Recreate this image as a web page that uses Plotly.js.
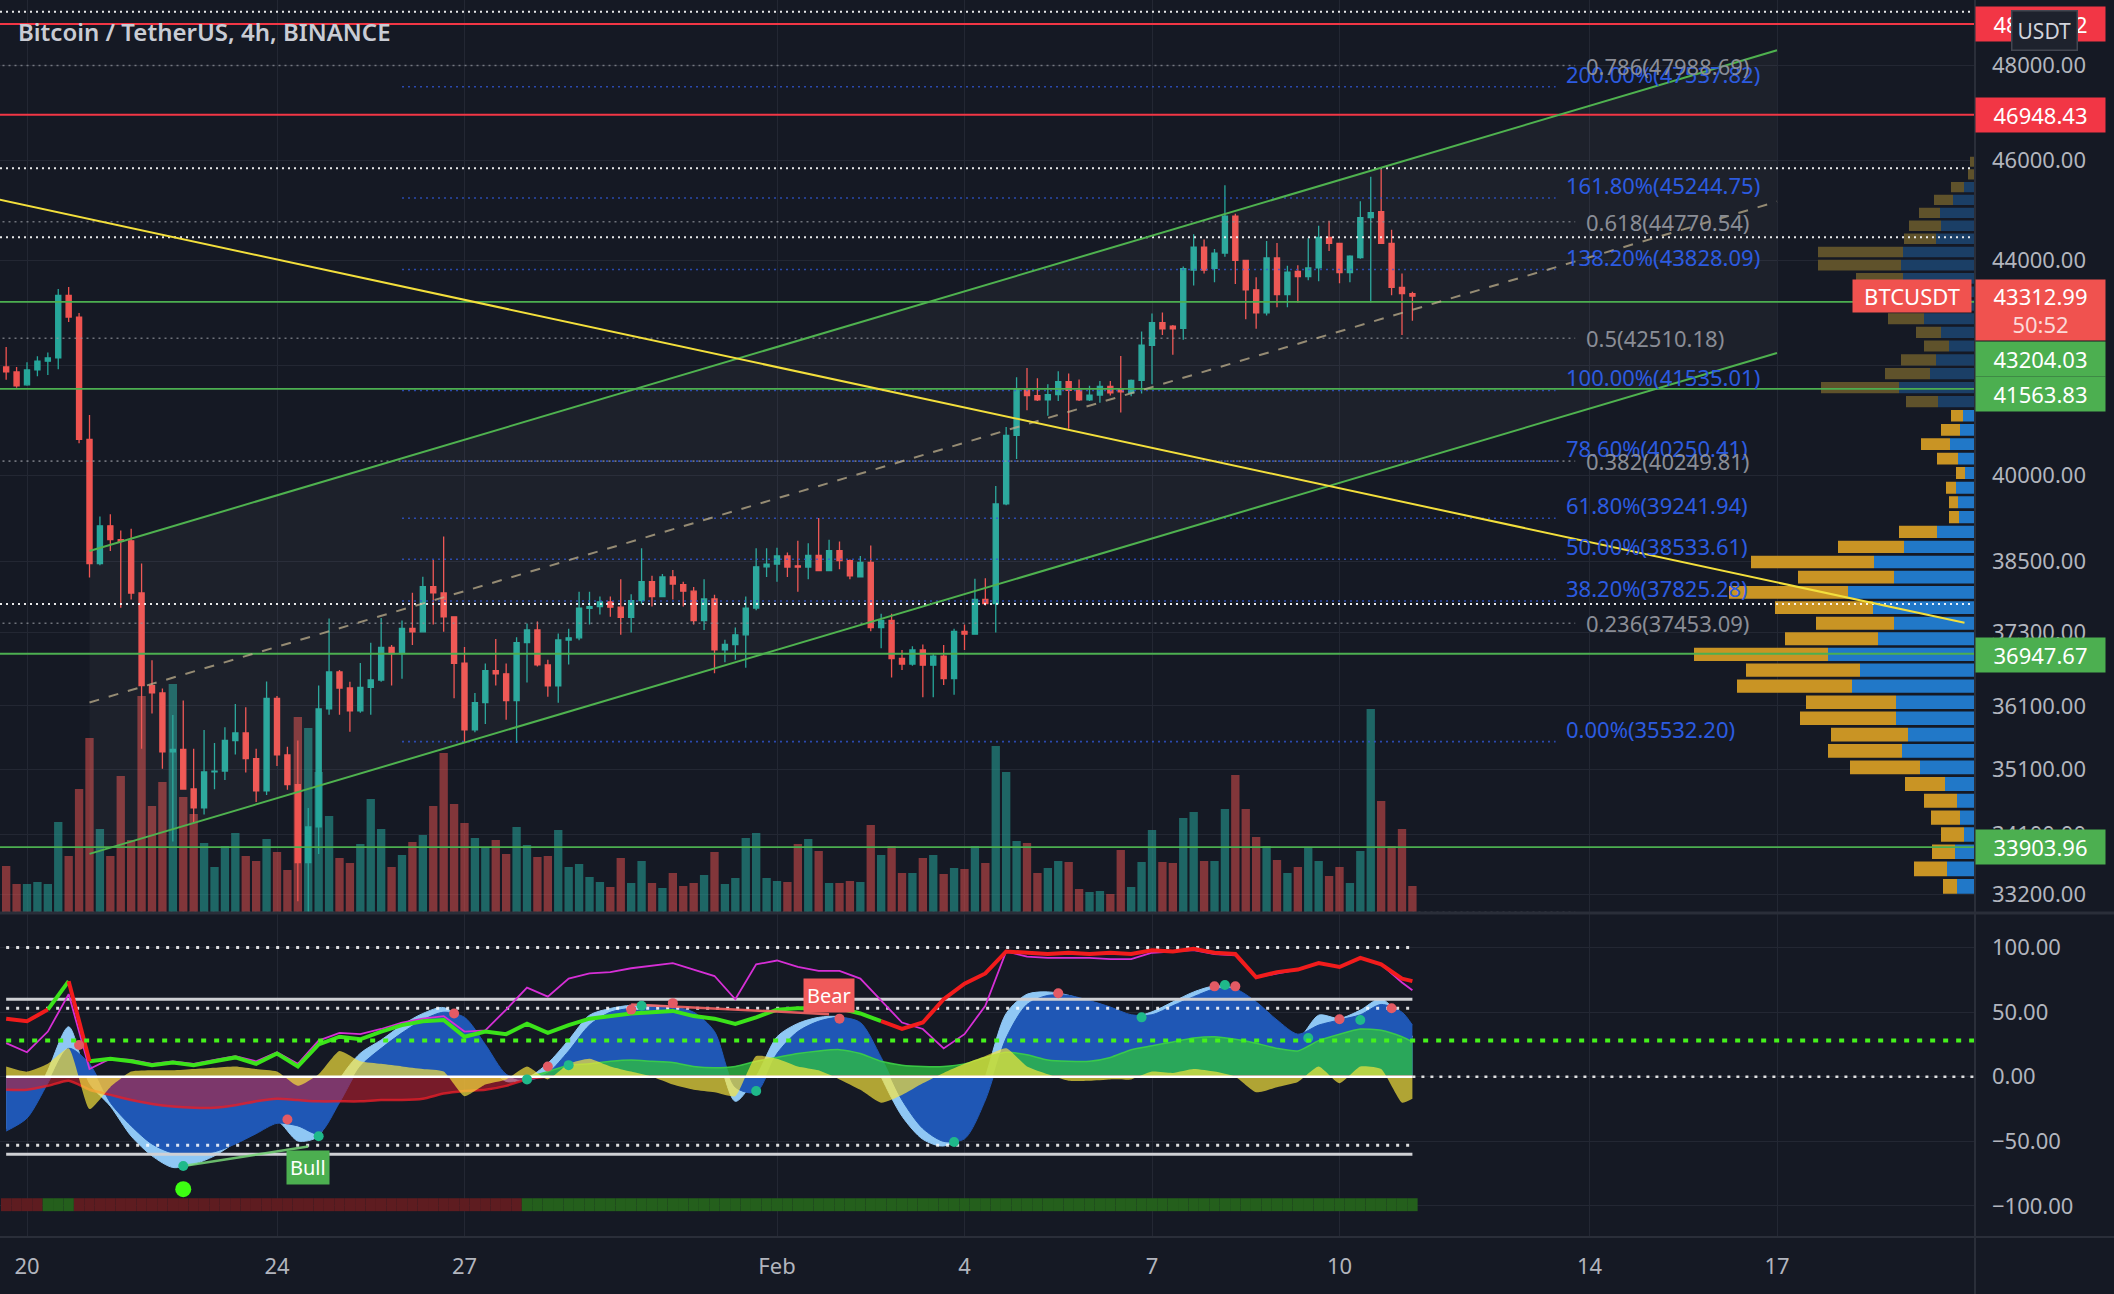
<!DOCTYPE html>
<html><head><meta charset="utf-8">
<script src="https://cdn.plot.ly/plotly-3.0.1.min.js"></script>
<style>html,body{margin:0;padding:0;background:#151924;}#chart{width:2114px;height:1294px;}</style>
</head><body><div id="chart"></div>
<script>
// ================= DATA =================
const firstBar = '2022-01-19 16:00';   // first visible 4h bar (UTC)
const opens = [41971,41878,41639,41915,42080,42140,43330,42913,40640,38457,
39110,38870,38850,37959,36427,36310,35370,35410,34792,34500,
35057,35070,35550,35670,35265,34762,36222,35323,34859,33672,
34210,36053,36650,36390,36021,36400,36519,37054,36950,37368,
37310,38066,37960,37560,36792,35717,36155,36671,36620,36185,
37130,37340,36765,36423,37174,37210,37703,37730,37810,37720,
37550,37830,38151,37900,38230,38100,37990,37496,37860,37010,
37100,37260,37705,38404,38450,38590,38420,38400,38600,38340,
38680,38510,38231,38481,37378,37500,36870,36780,37010,36760,
36910,36540,37315,37270,37853,37780,39493,40715,41559,41440,
41360,41460,41700,41535,41360,41450,41610,41550,41490,41720,
42378,42806,42740,42700,43820,44268,43850,44150,44882,44009,
43436,42993,44056,43342,43790,43690,43860,44461,44340,43769,
44060,44853,44970,44340,43484,43360];
const highs = [42343,41971,42061,42170,42240,43451,43490,42990,41085,39270,
39310,39030,39060,38460,36840,36380,35957,36190,35420,35717,
35510,35760,36130,36080,35420,36493,36260,35450,35550,34500,
36430,37533,36680,36490,36796,37129,37540,37090,37500,37965,
38235,38521,38923,37570,37060,36310,36790,37190,36790,37220,
37450,37480,36850,37280,37360,37981,37980,37900,37900,38190,
37940,38722,38250,38280,38350,38150,38060,38190,37930,37180,
37380,37900,38720,38720,38730,38650,38850,38810,39245,38870,
38840,38530,38590,38770,37610,37610,37010,37070,37100,36960,
37090,37360,37430,38200,38210,39810,40867,41778,41950,41760,
41650,41890,41850,41740,41620,41710,41710,42175,41740,42638,
42980,43000,42760,43890,44521,44420,44230,45503,44930,44009,
43680,44390,44350,43900,43910,44440,44690,44790,44340,44110,
45177,45673,45820,44610,43750,43400];
const lows = [41733,41583,41620,41800,41820,41930,42820,40571,38220,38430,
38675,37710,37850,35420,35980,35108,33988,34780,34286,34400,
34790,34930,35330,35050,34590,34700,35150,34780,33100,32932,
33800,35960,35960,35690,35990,35960,36490,36430,36540,37090,
37300,37430,37310,36224,35518,35680,35810,36430,35880,35510,
36480,36740,36250,36150,36770,37170,37430,37600,37560,37260,
37300,37780,37730,37900,37850,37730,37430,37340,36628,36810,
36850,36720,37670,38230,38150,38230,37980,38190,38340,38340,
38360,38190,38220,37320,37040,36560,36680,36750,36240,36240,
36440,36280,37010,37270,37750,37300,39470,40290,41170,41340,
41070,41340,40834,41340,41340,41310,41440,41130,41430,41480,
41650,42570,42200,42480,43520,43750,43580,44080,43550,42870,
42690,42940,43100,43100,43190,43620,43600,44190,43560,43580,
44040,43190,44330,43330,42570,42840];
const closes = [41878,41620,41915,42080,42140,43327,42913,40640,38457,39110,
38870,38840,37959,36427,36310,35370,35410,34792,34500,35057,
35070,35550,35670,35265,34762,36222,35323,34859,33672,34210,
36053,36650,36390,36021,36400,36519,37054,36950,37368,37310,
38066,37960,37560,36792,35717,36155,36671,36620,36185,37130,
37340,36765,36423,37174,37210,37703,37730,37810,37720,37550,
37830,38151,37900,38230,38110,37990,37496,37860,37010,37100,
37260,37705,38404,38450,38590,38400,38400,38600,38340,38680,
38510,38250,38481,37378,37500,36870,36780,37010,36760,36910,
36540,37315,37270,37853,37780,39493,40715,41559,41440,41360,
41460,41700,41535,41360,41450,41610,41490,41510,41720,42378,
42806,42690,42690,43846,44268,43820,44150,44882,44009,43436,
42993,44056,43342,43780,43690,43860,44461,44340,43769,44090,
44853,44951,44340,43484,43360,43312.99];
const volumes = [4600,2800,2800,3000,2800,9000,5600,12300,17400,8300,
5600,13600,7200,21600,10600,13000,22800,11500,9800,6900,
4500,6600,7900,5600,5100,7300,6000,4200,19500,18400,
14000,9600,5400,4900,6800,11300,8300,4500,5700,7000,
7700,10600,15900,10800,8900,7400,6400,7200,5800,8500,
6700,5500,5600,8200,4500,4800,3500,3000,2500,5400,
2900,5100,2900,2400,3900,2600,2900,3700,6000,2800,
3400,7400,7900,3400,3100,3000,6800,7300,6100,2900,
2900,3100,3000,8700,5700,6600,3900,3900,5400,5700,
3800,4400,4300,6600,4900,16600,14000,7100,6900,3900,
4400,5100,5000,2300,2000,2100,1800,6200,2500,5000,
8200,5000,4900,9400,10000,5100,5100,10300,13700,10300,
7500,6600,5200,3900,4500,6400,5100,3600,4500,2900,
6100,20300,11100,6600,8300,2600];

// price axis ticks (42000 has a grid line but its label is hidden by the price labels)
const priceTicks = [48000,46000,44000,42000,40000,38500,37300,36100,35100,34100,33200];
const priceTickText = ['48000.00','46000.00','44000.00','','40000.00','38500.00','37300.00','36100.00','35100.00','34100.00','33200.00'];
const dateTicks = ['2022-01-20','2022-01-24','2022-01-27','2022-02-01','2022-02-04','2022-02-07','2022-02-10','2022-02-14','2022-02-17'];
const dateTickText = ['20','24','27','Feb','4','7','10','14','17'];
const oscTicks = [-100,-50,0,50,100];
const oscTickText = ['\u2212100.00','\u221250.00','0.00','50.00','100.00'];

// horizontal levels
const redLevels = [48883.22, 46948.43];
const greenLevels = [43204.03, 41563.83, 36947.67, 33903.96];
const whiteDotLevels = [49150, 45846, 44461, 37774];
const lastPrice = 43312.99;
const countdown = '50:52';

// fib retracement (grey) and fib extension (blue)
const fibRetLevels = ['0','0.236','0.382','0.5','0.618','0.786'];
const fibRetPrices = [32932.35,37453.09,40249.81,42510.18,44770.54,47988.69];
const fibRetSpan = ['2022-01-15 00:00','2022-02-13 18:30'];
const fibExtLevels = ['0.00%','38.20%','50.00%','61.80%','78.60%','100.00%','138.20%','161.80%','200.00%'];
const fibExtPrices = [35532.20,37825.28,38533.61,39241.94,40250.41,41535.01,43828.09,45244.75,47537.82];
const fibExtSpan = ['2022-01-26 00:00','2022-02-13 11:00'];

// parallel channel and trend line
const channelTimes = ['2022-01-21 00:00','2022-02-17 00:00'];
const channelUpper = [38675, 48317];
const channelLower = [33803, 42233];
const trendTimes = ['2022-01-19 12:00','2022-02-20 00:00'];
const trendPrices = [45226, 37460];

// visible volume profile (rows from the bottom price upward)
const vpBottom = 33190, vpRowSize = 258.4, vpValueAreaHigh = 41200;
const vpUpVol = [18,28,20,11,15,18,30,55,73,67,79,79,123,115,147,97,81,102,127,81,
101,71,38,16,17,19,10,17,25,15,12,37,76,45,39,26,34,51,59,69,72,74,72,39,34,35,22,11,1,1];
const vpDownVol = [14,33,23,23,29,33,40,70,74,77,96,90,115,114,134,93,78,98,119,96,
123,66,38,10,9,10,9,21,29,19,12,32,78,45,35,25,25,36,45,50,47,83,85,32,32,21,19,13,6,4];

// oscillator (sampled every second bar + last bar)
const wt1 = [-40,-28,5,38.7,-5,-22.8,-45.9,-61.2,-70.2,-67.7,-61.2,-51,-42,-34.3,-49.7,-45.9,-2.3,18.2,28.5,40,
49,53.6,41.3,13.1,-3.6,-1,10.5,28.5,47.7,52.9,55.4,55.4,54.1,46.4,23.4,-19,0.3,31,41.3,46,
46.4,38.7,0,-30.5,-48.4,-53.6,-43.3,0,49,63.9,65.7,63.1,58,52.9,46.4,50.3,58,65.7,70.3,68.2,
52.9,38.7,29.8,47.7,45.2,51.6,60.5,43.9,31];
const wt2 = [-42,-32,-5,22,10,-20,-38,-52,-59,-60,-58,-52,-44,-36,-38,-44,-20,8,22,34,
44,50,46,25,2,-3,3,20,40,50,53,54,54,50,35,-8,-12,18,35,43,
46,42,15,-18,-40,-50,-48,-18,30,56,63,63,59,54,48,48,55,62,68,68,
58,44,33,40,44,48,56,50,40];
const moneyFlow = [-10,-10,-7,-3,-10,-14,-18,-21,-23,-24,-24,-22,-19,-17,-18,-19,-19,-19,-18,-18,
-17,-13,-11,-10,-7,-2,4,9,10,12,13,12,11,8,7,8,12,15,18,20,
21,18,12,9,8,8,10,15,19,17,13,12,12,15,21,24,27,30,31,29,
26,22,20,28,33,37,36,31,27];
const yellowFlow = [8,4,10,22,-25,-8,4,5,5,6,7,8,6,4,-7,2,20,12,10,8,
6,4,-15,-6,-2,8,-2,10,14,8,4,0,-6,-10,-12,-15,16,14,8,5,
-2,-10,-20,-14,-5,3,10,16,22,8,2,-3,-3,-2,-2,4,3,6,4,0,
-12,-8,-4,8,-5,8,6,-20,-17];
const stochK = [45,43,52,74,12,14,12,9,11,9,12,15,10,18,8,25,31,29,35,40,
43,44,31,35,33,41,34,40,45,47,49,50,51,47,45,41,46,52,53,53,
53,49,43,37,42,60,72,80,97,96,95,96,95,96,95,98,97,99,96,95,
77,81,83,88,85,92,87,76,74];
const stochKState = 'RRRGRGGGGGGGGGGGGGGGGGGGGGGGGGGGGGGGGGGGGGGRRRRRRRRRRRRRRRRRRRRRRRRRR';
const stochD = [26,19,35,64,6,14,13,10,12,10,13,16,12,19,10,28,34,33,37,42,
45,47,35,36,52,69,62,76,80,81,84,86,88,83,78,60,87,90,85,82,
82,76,59,42,37,22,33,55,97,93,92,92,92,91,91,96,97,98,95,94,
77,80,83,88,85,92,87,73,67];
const dotTimes = ['2022-01-20 20:00','2022-01-22 12:00','2022-01-24 04:00','2022-01-24 16:00','2022-01-26 20:00',
'2022-01-28 00:00','2022-01-28 08:00','2022-01-28 16:00','2022-01-29 16:00','2022-01-29 20:00','2022-01-30 08:00',
'2022-01-31 16:00','2022-02-02 00:00','2022-02-03 20:00','2022-02-05 12:00','2022-02-06 20:00','2022-02-08 00:00',
'2022-02-08 04:00','2022-02-08 08:00','2022-02-09 12:00','2022-02-10 00:00','2022-02-10 08:00','2022-02-10 20:00'];
const dotValues = [24.6,-69,-33,-46,49,-2,8,9,52,55,57,-11,45,-50.5,64.7,46,70,71,70,30,44.6,44,53];
const dotTypes = ['bear','bull','bear','bull','bear','bull','bear','bull','bear','bull','bear','bull','bear','bull','bear','bull','bear','bull','bear','bull','bear','bull','bear'];
const bigDotTime = ['2022-01-22 12:00'], bigDotValue = [-87];
const bullDivTimes = ['2022-01-22 12:00','2022-01-24 12:00'], bullDivValues = [-69,-54];
const bearDivTimes = ['2022-01-29 16:00','2022-02-01 20:00'], bearDivValues = [56,48.5];
const bandStarts = ['2022-01-19 16:00','2022-01-20 08:00','2022-01-20 20:00','2022-01-28 00:00'];
const bandStates = ['bear','bull','bear','bull'];
const oscLevels = {top:100, ob:60, obDot:53, mid:28, zero:0, osDot:-53, os:-60};

// ================= HELPERS =================
const BG='#151924', GRID='#232733', TXT='#b2b5be';
const UP='#26a69a', DOWN='#ef5350';
const H4 = 4*3600*1000;
const xRange = ['2022-01-19 13:38','2022-02-20 04:02'];
const toMs = s => Date.parse(s.replace(' ','T')+':00Z');
const pad = n => String(n).padStart(2,'0');
const fmt = ms => {const d=new Date(ms);return d.getUTCFullYear()+'-'+pad(d.getUTCMonth()+1)+'-'+pad(d.getUTCDate())+' '+pad(d.getUTCHours())+':'+pad(d.getUTCMinutes());};
const t0 = toMs(firstBar);
const candleMs = opens.map((_,i)=>t0+i*H4);
const times = candleMs.map(fmt);
const nBars = times.length;
const oscIdx = []; for(let i=0;i<nBars-1;i+=2) oscIdx.push(i); oscIdx.push(nBars-1);
const oscTimes = oscIdx.map(i=>times[i]);
const L10 = Math.log10;

// plot geometry
const PLOT_H = 1237, PRICE_H = 912, OSC_H = 323;
const priceDomain = [(PLOT_H-PRICE_H)/PLOT_H, 1];
const oscDomain = [0, OSC_H/PLOT_H];

// ================= TRACES =================
const traces = [];
traces.push({type:'bar', x:times, y:volumes, xaxis:'x', yaxis:'y',
  marker:{color:closes.map((c,i)=>c>=opens[i]?'rgba(38,166,154,0.55)':'rgba(239,83,80,0.5)'), line:{width:0}},
  hoverinfo:'skip'});
traces.push({type:'scatter', mode:'none', xaxis:'x', yaxis:'y2',
  x:[channelTimes[0],channelTimes[1],channelTimes[1],channelTimes[0]],
  y:[channelUpper[0],channelUpper[1],channelLower[1],channelLower[0]],
  fill:'toself', fillcolor:'rgba(255,255,255,0.035)', hoverinfo:'skip'});
traces.push({type:'candlestick', x:times, open:opens, high:highs, low:lows, close:closes, xaxis:'x', yaxis:'y2',
  increasing:{line:{color:UP,width:1.3}, fillcolor:UP},
  decreasing:{line:{color:DOWN,width:1.3}, fillcolor:DOWN}, hoverinfo:'skip'});
function rects(list){const X=[],Y=[];list.forEach(r=>{X.push(r[0],r[1],r[1],r[0],r[0],null);Y.push(r[2],r[2],r[3],r[3],r[2],null);});return {X,Y};}
const gapF = Math.exp(1.3/2250);
const vpGroups = {upIn:[],downIn:[],upOut:[],downOut:[]};
vpUpVol.forEach((u,i)=>{
  const lo = vpBottom + i*vpRowSize, hi = lo + vpRowSize;
  const y0 = lo*gapF, y1 = hi/gapF;
  const inVA = hi <= vpValueAreaHigh + 1;
  const d = vpDownVol[i];
  (inVA?vpGroups.upIn:vpGroups.upOut).push([0,u,y0,y1]);
  (inVA?vpGroups.downIn:vpGroups.downOut).push([u,u+d,y0,y1]);
});
[['upIn','#2178c8'],['downIn','#c99424'],['upOut','#1b3f66'],['downOut','#5f522b']].forEach(([k,c])=>{
  const r = rects(vpGroups[k]);
  traces.push({type:'scatter', mode:'none', x:r.X, y:r.Y, xaxis:'x2', yaxis:'y2', fill:'toself', fillcolor:c, hoverinfo:'skip'});
});

// --- oscillator ---
const bandMs = bandStarts.map(toMs);
const bandCol = candleMs.map(ms=>{let st=bandStates[0];bandMs.forEach((b,k)=>{if(ms>=b) st=bandStates[k];});return st==='bull'?'#245f1c':'#5e1c20';});
const bandBottom=-104, bandTop=-94;
traces.push({type:'bar', x:times, y:times.map(()=>bandTop-bandBottom), base:bandBottom, width:H4,
  xaxis:'x', yaxis:'y3', marker:{color:bandCol, line:{width:0}}, hoverinfo:'skip'});
traces.push({type:'scatter', mode:'lines', x:oscTimes, y:wt1, xaxis:'x', yaxis:'y3', fill:'tozeroy',
  line:{color:'#8fc7f4', width:1, shape:'spline', smoothing:0.8}, fillcolor:'#8fc7f4', hoverinfo:'skip'});
traces.push({type:'scatter', mode:'lines', x:oscTimes, y:wt2, xaxis:'x', yaxis:'y3', fill:'tozeroy',
  line:{color:'#1f57b5', width:1, shape:'spline', smoothing:0.8}, fillcolor:'#1f57b5', hoverinfo:'skip'});
traces.push({type:'scatter', mode:'lines', x:oscTimes, y:moneyFlow.map(v=>Math.max(v,0)), xaxis:'x', yaxis:'y3', fill:'tozeroy',
  line:{color:'rgba(60,210,70,0.9)', width:1.5, shape:'spline', smoothing:0.6}, fillcolor:'rgba(46,190,64,0.78)', hoverinfo:'skip'});
traces.push({type:'scatter', mode:'lines', x:oscTimes, y:moneyFlow.map(v=>Math.min(v,0)), xaxis:'x', yaxis:'y3', fill:'tozeroy',
  line:{color:'rgba(230,30,40,0.8)', width:2.5, shape:'spline', smoothing:0.6}, fillcolor:'rgba(200,30,45,0.55)', hoverinfo:'skip'});
traces.push({type:'scatter', mode:'lines', x:oscTimes, y:yellowFlow, xaxis:'x', yaxis:'y3', fill:'tozeroy',
  line:{color:'rgba(250,230,60,0.0)', width:0, shape:'spline', smoothing:0.5}, fillcolor:'rgba(250,230,60,0.68)', hoverinfo:'skip'});
const span = [times[0], times[nBars-1]];
function lvl(v, color, width, dash){traces.push({type:'scatter', mode:'lines', x:span, y:[v,v], xaxis:'x', yaxis:'y3', line:{color, width, dash}, hoverinfo:'skip'});}
lvl(oscLevels.top,'rgba(255,255,255,0.85)',3,'3px,7px');
lvl(oscLevels.obDot,'rgba(255,255,255,0.85)',3,'3px,7px');
lvl(oscLevels.osDot,'rgba(255,255,255,0.85)',3,'3px,7px');
lvl(oscLevels.ob,'#cfd0d4',3,'solid');
lvl(oscLevels.os,'#cfd0d4',3,'solid');
lvl(oscLevels.zero,'#ffffff',2.5,'solid');
function runs(xs, ys, states, key){const X=[],Y=[];let open=false;
  for(let i=1;i<ys.length;i++){ if(states[i]===key){ if(!open){X.push(xs[i-1]);Y.push(ys[i-1]);open=true;} X.push(xs[i]);Y.push(ys[i]); } else if(open){X.push(null);Y.push(null);open=false;} }
  return {X,Y};}
traces.push({type:'scatter', mode:'lines', x:oscTimes, y:stochD, xaxis:'x', yaxis:'y3', line:{color:'#d62fd6', width:1.8}, hoverinfo:'skip'});
const kG = runs(oscTimes, stochK, stochKState, 'G'), kR = runs(oscTimes, stochK, stochKState, 'R');
traces.push({type:'scatter', mode:'lines', x:kG.X, y:kG.Y, xaxis:'x', yaxis:'y3', connectgaps:false, line:{color:'#3be31a', width:4}, hoverinfo:'skip'});
traces.push({type:'scatter', mode:'lines', x:kR.X, y:kR.Y, xaxis:'x', yaxis:'y3', connectgaps:false, line:{color:'#f21c1c', width:4}, hoverinfo:'skip'});
traces.push({type:'scatter', mode:'lines', x:bullDivTimes, y:bullDivValues, xaxis:'x', yaxis:'y3', line:{color:'rgba(120,215,120,0.85)', width:2.5}, hoverinfo:'skip'});
traces.push({type:'scatter', mode:'lines', x:bearDivTimes, y:bearDivValues, xaxis:'x', yaxis:'y3', line:{color:'rgba(245,100,100,0.9)', width:2.5}, hoverinfo:'skip'});
traces.push({type:'scatter', mode:'markers', x:dotTimes, y:dotValues, xaxis:'x', yaxis:'y3',
  marker:{size:10, color:dotTypes.map(t=>t==='bull'?'#1fb98a':'#e35a64'), line:{width:0}}, hoverinfo:'skip'});
traces.push({type:'scatter', mode:'markers', x:bigDotTime, y:bigDotValue, xaxis:'x', yaxis:'y3',
  marker:{size:16, color:'#3dff12'}, hoverinfo:'skip'});

// ================= SHAPES =================
const shapes = [];
function priceLine(p, color, width, dash){shapes.push({type:'line', xref:'paper', x0:0, x1:1, yref:'y2', y0:p, y1:p, line:{color, width, dash}, layer:'above'});}
fibRetPrices.forEach(p=>shapes.push({type:'line', xref:'x', x0:fibRetSpan[0], x1:fibRetSpan[1], yref:'y2', y0:p, y1:p, line:{color:'rgba(150,152,160,0.7)', width:1.6, dash:'2px,4px'}}));
fibExtPrices.forEach(p=>shapes.push({type:'line', xref:'x', x0:fibExtSpan[0], x1:fibExtSpan[1], yref:'y2', y0:p, y1:p, line:{color:'rgba(50,90,220,0.75)', width:1.6, dash:'2px,4px'}}));
whiteDotLevels.forEach(p=>priceLine(p,'rgba(255,255,255,0.9)',2,'2px,4px'));
greenLevels.forEach(p=>priceLine(p,'#4caf50',1.8,'solid'));
redLevels.forEach(p=>priceLine(p,'#f23645',2,'solid'));
shapes.push({type:'line', xref:'x', yref:'y2', x0:channelTimes[0], x1:channelTimes[1], y0:channelUpper[0], y1:channelUpper[1], line:{color:'#4fb24f', width:2}});
shapes.push({type:'line', xref:'x', yref:'y2', x0:channelTimes[0], x1:channelTimes[1], y0:channelLower[0], y1:channelLower[1], line:{color:'#4fb24f', width:2}});
shapes.push({type:'line', xref:'x', yref:'y2', x0:channelTimes[0], x1:channelTimes[1],
  y0:Math.sqrt(channelUpper[0]*channelLower[0]), y1:Math.sqrt(channelUpper[1]*channelLower[1]), line:{color:'rgba(190,175,140,0.75)', width:2, dash:'10px,10px'}});
shapes.push({type:'line', xref:'x', yref:'y2', x0:trendTimes[0], x1:trendTimes[1], y0:trendPrices[0], y1:trendPrices[1], line:{color:'#f3df3c', width:2}});
shapes.push({type:'line', xref:'x', yref:'y3', x0:times[nBars-1], x1:xRange[1], y0:0, y1:0, line:{color:'rgba(255,255,255,0.85)', width:2.5, dash:'3px,6px'}});
shapes.push({type:'line', xref:'x', yref:'y3', x0:times[0], x1:xRange[1], y0:oscLevels.mid, y1:oscLevels.mid, line:{color:'#45f21c', width:4, dash:'5px,8px'}});
const PW = 1975;
shapes.push({type:'line', xref:'paper', yref:'paper', x0:0, x1:2114/PW, y0:oscDomain[1]+1/PLOT_H, y1:oscDomain[1]+1/PLOT_H, line:{color:'#2a2e39', width:3}});
shapes.push({type:'line', xref:'paper', yref:'paper', x0:0, x1:2114/PW, y0:0, y1:0, line:{color:'#2a2e39', width:2}});
shapes.push({type:'line', xref:'paper', yref:'paper', x0:1, x1:1, y0:-57/PLOT_H, y1:1, line:{color:'#2a2e39', width:2}});

// ================= ANNOTATIONS =================
const ann = [];
const F = '"Noto Sans", sans-serif';
ann.push({xref:'paper', yref:'paper', x:16/PW, y:1-32/PLOT_H, xanchor:'left', yanchor:'middle', showarrow:false,
  text:'Bitcoin / TetherUS, 4h, BINANCE', font:{family:F, size:24, color:'#c9ccd4', weight:600}});
fibExtPrices.forEach((p,i)=>ann.push({xref:'x', yref:'y2', x:fibExtSpan[1], y:L10(p), xanchor:'left', yanchor:'bottom', xshift:8, yshift:-4, showarrow:false,
  text:fibExtLevels[i]+'('+p.toFixed(2)+')', font:{family:F, size:22, color:'#2c5be0'}}));
fibRetPrices.forEach((p,i)=>{ if(i===0) return; ann.push({xref:'x', yref:'y2', x:fibRetSpan[1], y:L10(p), xanchor:'left', yanchor:'middle', xshift:9, showarrow:false,
  text:fibRetLevels[i]+'('+p.toFixed(2)+')', font:{family:F, size:22, color:'#8a8d96'}}); });
function axisLabel(p, bg, yshift, text, h){ann.push({xref:'paper', yref:'y2', x:1, y:L10(p), xanchor:'left', yanchor:'middle', yshift:yshift||0, showarrow:false,
  text:text||p.toFixed(2), bgcolor:bg, borderpad:4, width:121, height:h||26, align:'center', valign:'middle', font:{family:F, size:22, color:'#ffffff'}});}
axisLabel(redLevels[0], '#f23645');
axisLabel(redLevels[1], '#f23645');
axisLabel(lastPrice, '#f0524f', -14, lastPrice.toFixed(2)+'<br><span style="color:rgba(255,255,255,0.78)">'+countdown+'</span>', 52);
axisLabel(greenLevels[0], '#4caf50', -57);
axisLabel(greenLevels[1], '#4caf50', -5);
axisLabel(greenLevels[2], '#4caf50', -1);
axisLabel(greenLevels[3], '#4caf50', 0);
ann.push({xref:'paper', yref:'y2', x:1, y:L10(lastPrice), xanchor:'right', yanchor:'middle', xshift:-3, showarrow:false,
  text:'BTCUSDT', bgcolor:'#f0524f', borderpad:4, width:110, height:24, align:'center', font:{family:F, size:22, color:'#ffffff'}});
ann.push({xref:'x', yref:'y3', x:bullDivTimes[1], y:bullDivValues[1], xanchor:'center', yanchor:'top', yshift:-3, showarrow:false,
  text:'Bull', bgcolor:'#4caf50', borderpad:3, font:{family:F, size:20, color:'#ffffff'}});
ann.push({xref:'x', yref:'y3', x:bearDivTimes[1], y:bearDivValues[1], xanchor:'center', yanchor:'bottom', yshift:1, showarrow:false,
  text:'Bear', bgcolor:'#f05a5a', borderpad:3, font:{family:F, size:20, color:'#ffffff'}});
ann.push({xref:'paper', yref:'paper', x:2044/PW, y:1-30/PLOT_H, xanchor:'center', yanchor:'middle', showarrow:false,
  text:'USDT', bgcolor:'#1e222d', bordercolor:'#434651', borderwidth:1.5, borderpad:5, font:{family:F, size:21, color:'#d1d4dc'}});

// ================= LAYOUT =================
const layout = {
  width:2114, height:1294, margin:{l:0, r:139, t:0, b:57},
  paper_bgcolor:BG, plot_bgcolor:BG, showlegend:false, hovermode:false, dragmode:false,
  font:{family:F, size:22, color:TXT},
  xaxis:{type:'date', range:xRange, anchor:'y3', tickvals:dateTicks, ticktext:dateTickText, showgrid:true, gridcolor:GRID, gridwidth:1,
    ticks:'', ticklabelstandoff:14, zeroline:false, showline:false, rangeslider:{visible:false}, tickfont:{family:F, size:22, color:TXT}},
  xaxis2:{overlaying:'x', anchor:'y2', range:[PW,0], visible:false, showgrid:false, zeroline:false},
  yaxis:{domain:priceDomain, range:[0, PRICE_H*100], visible:false, showgrid:false, zeroline:false, anchor:'x'},
  yaxis2:{overlaying:'y', type:'log', side:'right', anchor:'x', range:[L10(32941), L10(49407)],
    tickvals:priceTicks, ticktext:priceTickText, showgrid:true, gridcolor:GRID, gridwidth:1, ticks:'', ticklabelstandoff:16,
    zeroline:false, showline:false, tickfont:{family:F, size:22, color:TXT}},
  yaxis3:{domain:oscDomain, range:[-124,126], side:'right', anchor:'x', tickvals:oscTicks, ticktext:oscTickText, showgrid:true, gridcolor:GRID,
    ticks:'', ticklabelstandoff:16, zeroline:false, showline:false, tickfont:{family:F, size:22, color:TXT}},
  shapes, annotations:ann
};
Plotly.newPlot('chart', traces, layout, {staticPlot:true, displayModeBar:false});
</script>
</body></html>
